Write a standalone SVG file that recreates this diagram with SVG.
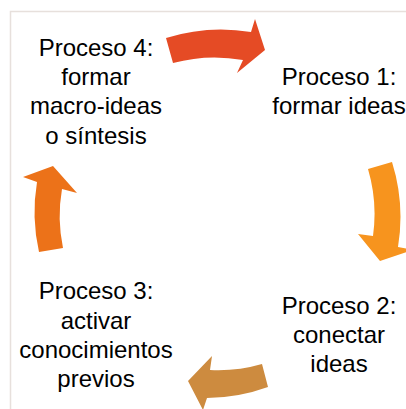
<svg xmlns="http://www.w3.org/2000/svg" width="406" height="409" viewBox="0 0 406 409">
<style>
text{font-family:"Liberation Sans",Arial,sans-serif;font-size:24px;fill:#000;text-anchor:middle}
.frame{fill:none;stroke:#e7e0dc;stroke-width:1.5}
</style>
<rect width="406" height="409" fill="#fff"/>
<rect class="frame" x="10.5" y="11.5" width="420" height="420"/>
<g id="connectors">
<path id="arrow-4-1" fill="#e54b25" d="M166,38 A184,184 0 0 1 251,32 L255,19 L265,50 L237,73 L243,60 A158,158 0 0 0 173,63 Z"/>
<path id="arrow-1-2" fill="#f7941e" d="M392,162 A184,184 0 0 1 398,247 L413,250 L380,261 L358,234 L373,236 A158,158 0 0 0 368,169 Z"/>
<path id="arrow-2-3" fill="#cd8b3f" d="M268,387 A182,182 0 0 1 207,398 L203,410 L188,381 L212,356 L210,370 A156,156 0 0 0 262,364 Z"/>
<path id="arrow-3-4" fill="#ec7219" d="M39,252 A182,182 0 0 1 37,182 L23,177 L53,166 L77,193 L62,189 A157,157 0 0 0 63,248 Z"/>
</g>
<g id="node-4">
<text x="96" y="55.5">Proceso 4:</text>
<text x="96" y="85">formar</text>
<text x="96" y="114">macro-ideas</text>
<text x="96" y="143.5">o síntesis</text>
</g>
<g id="node-1">
<text x="339" y="85">Proceso 1:</text>
<text x="339" y="114">formar ideas</text>
</g>
<g id="node-2">
<text x="339" y="314">Proceso 2:</text>
<text x="339" y="343">conectar</text>
<text x="339" y="372">ideas</text>
</g>
<g id="node-3">
<text x="96" y="299">Proceso 3:</text>
<text x="96" y="328.5">activar</text>
<text x="96" y="358">conocimientos</text>
<text x="96" y="387">previos</text>
</g>
</svg>
